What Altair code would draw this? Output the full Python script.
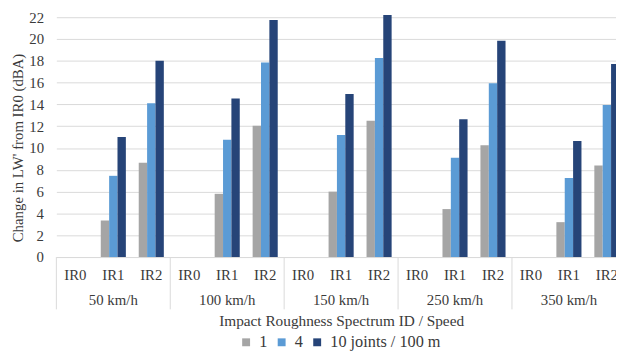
import altair as alt
import pandas as pd

speeds = ["50 km/h", "100 km/h", "150 km/h", "250 km/h", "350 km/h"]
irs = ["IR0", "IR1", "IR2"]
series = ["1", "4", "10 joints / 100 m"]
colors = ["#a5a5a5", "#5b9bd5", "#264478"]

# values in order: for each speed -> IR0, IR1, IR2
vals_1 = [0, 3.35, 8.65, 0, 5.8, 12.05, 0, 6.0, 12.5, 0, 4.4, 10.25, 0, 3.2, 8.4]
vals_4 = [0, 7.45, 14.1, 0, 10.75, 17.85, 0, 11.2, 18.25, 0, 9.1, 15.95, 0, 7.25, 13.95]
vals_10 = [0, 11.0, 18.0, 0, 14.55, 21.75, 0, 14.95, 22.2, 0, 12.65, 19.85, 0, 10.65, 17.7]

y_ticks = list(range(0, 23, 2))

FONT = "'Liberation Serif', 'Times New Roman', 'DejaVu Serif', serif"
TXT = "#3a3a3a"
GRID = "#d9d9d9"
H = 243
W = 567
FULL = 577

cats = [f"{s}|{r}" for s in speeds for r in irs]
cat_df = pd.DataFrame({
    "cat": cats,
    "speed": [s for s in speeds for r in irs],
    "ir": [r for s in speeds for r in irs],
})

rows = []
for name, vals in zip(series, [vals_1, vals_4, vals_10]):
    for c, v in zip(cats, vals):
        rows.append({"cat": c, "series": name, "value": v})
bar_df = pd.DataFrame(rows)

bars = alt.Chart(bar_df).mark_bar().encode(
    x=alt.X(
        "cat:N",
        sort=cats,
        scale=alt.Scale(domain=cats, range=[0, FULL], paddingInner=0, paddingOuter=0),
        axis=alt.Axis(
            labels=False, ticks=False, domain=True, domainColor=GRID,
            title="Impact Roughness Spectrum ID / Speed",
            titleFont=FONT, titleFontSize=15.5, titleFontWeight="normal", titleColor=TXT,
            titleY=64, titleBaseline="middle",
        ),
    ),
    xOffset=alt.XOffset(
        "series:N", sort=series,
        scale=alt.Scale(domain=series, paddingInner=0, paddingOuter=0.77),
    ),
    y=alt.Y(
        "value:Q",
        scale=alt.Scale(domain=[0, 22], nice=False),
        axis=alt.Axis(
            values=y_ticks, grid=True, gridColor=GRID, domain=False, ticks=False,
            labelPadding=13, labelFont=FONT, labelFontSize=15, labelColor=TXT,
            title="Change in LW' from IR0 (dBA)",
            titleFont=FONT, titleFontSize=15, titleFontWeight="normal", titleColor=TXT,
            titleX=-39, titleY=132, titleAngle=270, titleAlign="center", titleBaseline="middle",
        ),
    ),
    color=alt.Color(
        "series:N",
        sort=series,
        scale=alt.Scale(domain=series, range=colors),
        legend=alt.Legend(
            orient="none", legendX=184, legendY=321, direction="horizontal", title=None,
            symbolType="square", symbolSize=64, symbolStrokeWidth=0,
            labelFont=FONT, labelFontSize=16.5, labelColor=TXT, labelOffset=5,
            columnPadding=6,
        ),
    ),
)

ir_text = alt.Chart(cat_df).mark_text(
    font=FONT, fontSize=15, color=TXT, baseline="middle"
).encode(
    x=alt.X("cat:N", sort=cats),
    y=alt.value(H + 18),
    text="ir:N",
)

speed_text = alt.Chart(cat_df).transform_filter(
    alt.datum.ir == "IR1"
).mark_text(
    font=FONT, fontSize=15, color=TXT, baseline="middle"
).encode(
    x=alt.X("cat:N", sort=cats),
    y=alt.value(H + 43.5),
    text="speed:N",
)

seps = alt.Chart(cat_df).transform_filter(
    alt.datum.ir == "IR0"
).mark_rule(color=GRID, strokeWidth=1).encode(
    x=alt.X("cat:N", sort=cats, bandPosition=0),
    y=alt.value(H),
    y2=alt.value(H + 53),
)

chart = alt.layer(bars, seps, ir_text, speed_text).properties(
    width=W,
    height=H,
    autosize=alt.AutoSizeParams(type="none"),
    padding={"left": 49, "top": 7, "right": 0, "bottom": 103},
    background="white",
).configure_view(strokeWidth=0)

chart.save("out.html", embed_options={"renderer": "svg", "actions": False})
